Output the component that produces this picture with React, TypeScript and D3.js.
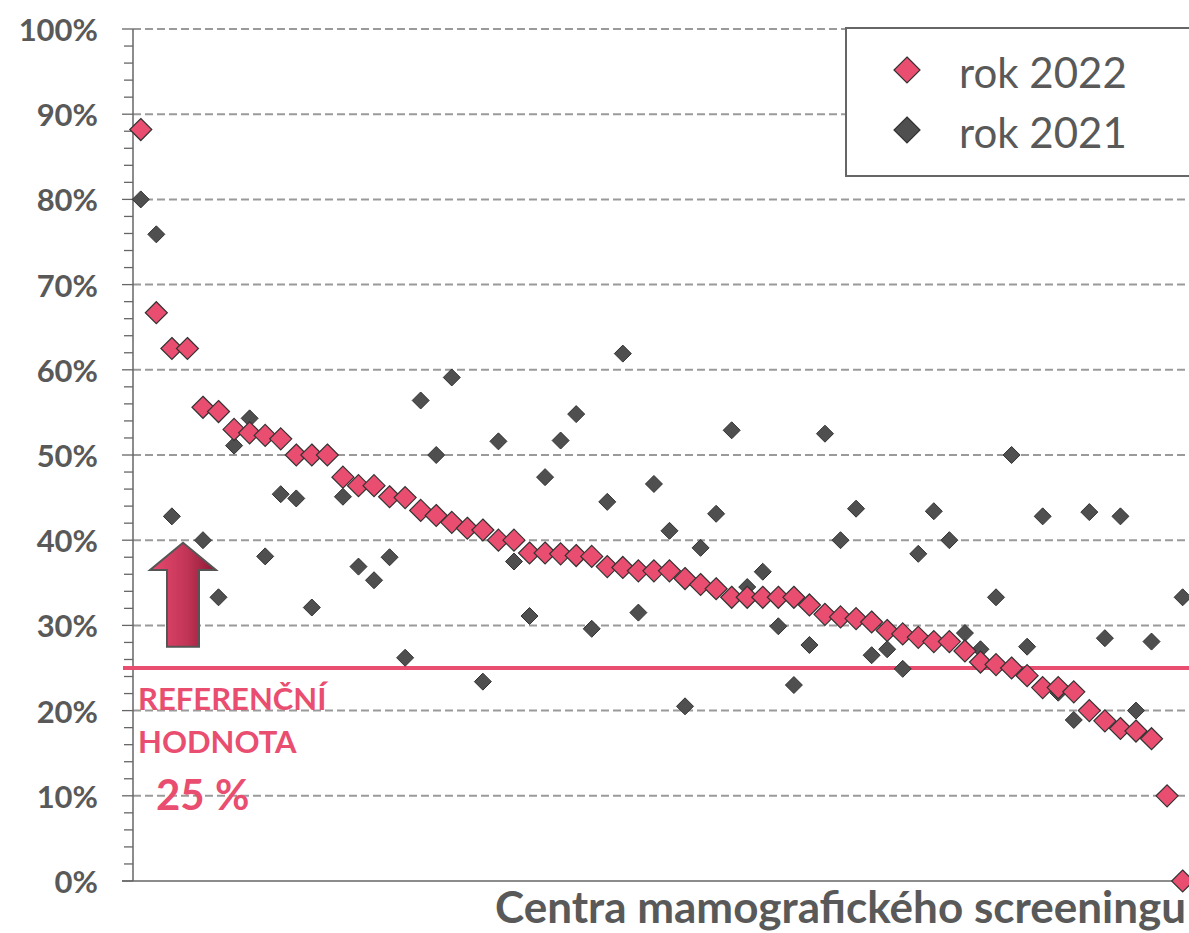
import { useEffect, useRef } from "react";
import * as d3 from "d3";

// podíl (%) za jednotlivá centra, seřazeno podle roku 2022
const values2022: number[] = [
  88.2, 66.7, 62.5, 62.5, 55.6, 55.1, 53.0, 52.6, 52.3, 51.9,
  50.0, 50.0, 50.0, 47.4, 46.4, 46.4, 45.1, 45.0, 43.5, 42.9,
  42.1, 41.4, 41.2, 40.0, 40.0, 38.5, 38.5, 38.4, 38.2, 38.1,
  36.9, 36.8, 36.4, 36.4, 36.4, 35.5, 34.8, 34.3, 33.3, 33.3,
  33.3, 33.3, 33.3, 32.4, 31.3, 31.0, 30.8, 30.4, 29.4, 29.0,
  28.6, 28.1, 28.1, 27.0, 25.7, 25.4, 25.0, 24.1, 22.7, 22.7,
  22.2, 20.0, 18.8, 17.9, 17.6, 16.7, 10.0, 0.0,
];

const values2021: (number | null)[] = [
  80.0, 75.9, 42.8, null, 40.0, 33.3, 51.1, 54.3, 38.1, 45.4,
  44.9, 32.1, null, 45.1, 36.9, 35.3, 38.0, 26.2, 56.4, 50.0,
  59.1, null, 23.4, 51.6, 37.5, 31.1, 47.4, 51.7, 54.8, 29.6,
  44.5, 61.9, 31.5, 46.6, 41.1, 20.5, 39.1, 43.1, 52.9, 34.5,
  36.3, 29.9, 23.0, 27.7, 52.5, 40.0, 43.7, 26.5, 27.2, 24.9,
  38.4, 43.4, 40.0, 29.1, 27.2, 33.3, 50.0, 27.5, 42.8, 22.1,
  18.9, 43.3, 28.5, 42.8, 20.0, 28.1, null, 33.3,
];

const seriesNames = ["rok 2022", "rok 2021"];
const referenceValue = 25;
const yTicks = d3.range(0, 101, 10);
const yMinorTicks = d3.range(0, 101, 2);

const PINK = "#E94D70";
const DARK = "#4F4F4F";
const GREY_TEXT = "#595959";

function App() {
  const ref = useRef<SVGSVGElement>(null);

  useEffect(() => {
    const width = 1189;
    const height = 933;
    const left = 133;
    const step = 15.55;

    const svg = d3.select(ref.current);
    svg.selectAll("*").remove();

    const x = d3
      .scaleLinear()
      .domain([0.5, 72.5])
      .range([left, left + 72 * step]);
    const y = d3.scaleLinear().domain([0, 100]).range([881, 29]);

    const defs = svg.append("defs");
    const grad = defs
      .append("linearGradient")
      .attr("id", "arrowGrad")
      .attr("x1", "0%")
      .attr("x2", "100%");
    grad.append("stop").attr("offset", "0%").attr("stop-color", "#E84A70");
    grad.append("stop").attr("offset", "55%").attr("stop-color", "#C23556");
    grad.append("stop").attr("offset", "100%").attr("stop-color", "#8A1835");

    // mřížka
    svg
      .append("g")
      .selectAll("line")
      .data(yTicks.filter((d) => d > 0))
      .join("line")
      .attr("x1", left)
      .attr("x2", width)
      .attr("y1", (d) => y(d))
      .attr("y2", (d) => y(d))
      .attr("stroke", "#9A9A9A")
      .attr("stroke-width", 2)
      .attr("stroke-dasharray", "8,4");

    // osa y
    const axis = svg.append("g").attr("stroke", "#666");
    axis
      .selectAll("line.minor")
      .data(yMinorTicks)
      .join("line")
      .attr("class", "minor")
      .attr("x1", (d) => (d % 10 === 0 ? left - 11 : left - 9))
      .attr("x2", left)
      .attr("y1", (d) => y(d))
      .attr("y2", (d) => y(d))
      .attr("stroke-width", 1.3);
    axis
      .append("line")
      .attr("x1", left)
      .attr("x2", left)
      .attr("y1", y(0))
      .attr("y2", y(100))
      .attr("stroke-width", 1.5);
    axis
      .append("line")
      .attr("x1", left - 11)
      .attr("x2", width)
      .attr("y1", y(0))
      .attr("y2", y(0))
      .attr("stroke-width", 1.5);

    svg
      .append("g")
      .selectAll("text")
      .data(yTicks)
      .join("text")
      .attr("x", 98)
      .attr("y", (d) => y(d))
      .attr("text-anchor", "end")
      .attr("dominant-baseline", "central")
      .attr("font-family", "Lato")
      .attr("font-weight", "bold")
      .attr("font-size", 31)
      .attr("fill", GREY_TEXT)
      .text((d) => `${d}%`);

    // referenční hodnota
    svg
      .append("line")
      .attr("x1", left - 10)
      .attr("x2", width)
      .attr("y1", y(referenceValue))
      .attr("y2", y(referenceValue))
      .attr("stroke", PINK)
      .attr("stroke-width", 4);

    const ann = svg
      .append("g")
      .attr("font-family", "Lato")
      .attr("font-weight", "bold")
      .attr("fill", PINK);
    ann.append("text").attr("x", 138).attr("y", 710).attr("font-size", 31).text("REFERENČNÍ");
    ann.append("text").attr("x", 138).attr("y", 753).attr("font-size", 31).text("HODNOTA");
    ann.append("text").attr("x", 156).attr("y", 810).attr("font-size", 42).text("25 %");

    // šipka
    const ax = 183;
    const tip = y(39.7);
    const neck = y(36.5);
    const base = y(27.5);
    svg
      .append("path")
      .attr(
        "d",
        `M${ax},${tip} L${ax + 33},${neck} L${ax + 16},${neck} L${ax + 16},${base} ` +
          `L${ax - 16},${base} L${ax - 16},${neck} L${ax - 33},${neck} Z`
      )
      .attr("fill", "url(#arrowGrad)")
      .attr("stroke", "#555")
      .attr("stroke-width", 2);

    const diamond = (r: number) => `M0,${-r} L${r},0 L0,${r} L${-r},0 Z`;

    // rok 2021
    svg
      .append("g")
      .selectAll("path")
      .data(values2021.map((v, i) => ({ v, i: i + 1 })).filter((d) => d.v !== null))
      .join("path")
      .attr("transform", (d) => `translate(${x(d.i)},${y(d.v as number)})`)
      .attr("d", diamond(8.5))
      .attr("fill", DARK)
      .attr("stroke", "#333")
      .attr("stroke-width", 1);

    // rok 2022
    svg
      .append("g")
      .selectAll("path")
      .data(values2022.map((v, i) => ({ v, i: i + 1 })))
      .join("path")
      .attr("transform", (d) => `translate(${x(d.i)},${y(d.v)})`)
      .attr("d", diamond(11))
      .attr("fill", PINK)
      .attr("stroke", "#333")
      .attr("stroke-width", 1.2);

    // název osy x
    svg
      .append("text")
      .attr("x", 495)
      .attr("y", 923)
      .attr("font-family", "Lato")
      .attr("font-weight", "bold")
      .attr("font-size", 44)
      .attr("fill", GREY_TEXT)
      .text("Centra mamografického screeningu");

    // legenda
    const lg = svg.append("g");
    lg.append("rect")
      .attr("x", 846)
      .attr("y", 28)
      .attr("width", 400)
      .attr("height", 148)
      .attr("fill", "white")
      .attr("stroke", "#666")
      .attr("stroke-width", 2);
    const items = lg
      .selectAll("g.item")
      .data(seriesNames)
      .join("g")
      .attr("class", "item")
      .attr("transform", (_, i) => `translate(0,${70 + i * 60})`);
    items
      .append("path")
      .attr("transform", "translate(907,0)")
      .attr("d", diamond(13))
      .attr("fill", (_, i) => (i === 0 ? PINK : DARK))
      .attr("stroke", "#333")
      .attr("stroke-width", 1.2);
    items
      .append("text")
      .attr("x", 959)
      .attr("y", 18)
      .attr("font-family", "Lato")
      .attr("font-size", 42)
      .attr("fill", GREY_TEXT)
      .text((d) => d);

    svg.attr("width", width).attr("height", height);
  }, []);

  return (
    <svg
      ref={ref}
      width={1189}
      height={933}
      style={{ position: "absolute", left: 0, top: 0, display: "block", background: "white" }}
    />
  );
}

export default App;
